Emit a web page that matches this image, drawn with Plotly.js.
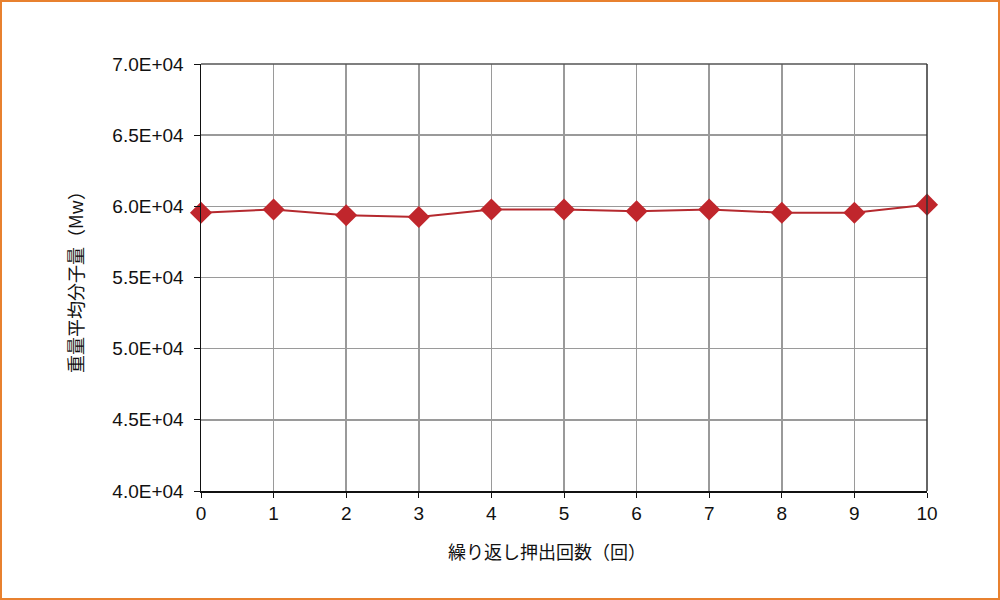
<!DOCTYPE html>
<html>
<head>
<meta charset="utf-8">
<script src="https://cdn.plot.ly/plotly-3.0.1.min.js"></script>
<style>
  body { margin: 0; background: #fff; }
  #wrap { position: relative; width: 1000px; height: 600px; }
  #chart { position: absolute; left: 0; top: 0; width: 1000px; height: 600px; }
  #frame {
    position: absolute; left: 0; top: 0; width: 1000px; height: 600px;
    box-sizing: border-box; border: 2px solid #e8812f; pointer-events: none;
  }
</style>
</head>
<body>
<div id="wrap">
  <div id="chart"></div>
  <div id="frame"></div>
</div>
<script>
// repeated extrusion count vs weight-average molecular weight
const cycles = [0, 1, 2, 3, 4, 5, 6, 7, 8, 9, 10];
const mw = [59550, 59780, 59370, 59250, 59780, 59780, 59650, 59780, 59550, 59550, 60120];
const yTicks = [40000, 45000, 50000, 55000, 60000, 65000, 70000];
const yTickText = ["4.0E+04", "4.5E+04", "5.0E+04", "5.5E+04", "6.0E+04", "6.5E+04", "7.0E+04"];
const xTitle = "繰り返し押出回数（回）";
const yTitle = "重量平均分子量（Mw）";

const LINE_RED = "#b5292e";
const TICK_FONT = { family: "Liberation Sans, Arial, sans-serif", size: 19, color: "#111" };
const JP_FONT = { family: "Noto Sans CJK JP, sans-serif", size: 18, color: "#111" };

const trace = {
  x: cycles,
  y: mw,
  type: "scatter",
  mode: "lines+markers",
  cliponaxis: false,
  line: { color: LINE_RED, width: 2 },
  marker: { symbol: "diamond", size: 17, color: "#c0262c", line: { color: "#c0262c", width: 0 } },
  showlegend: false,
};

const layout = {
  width: 1000,
  height: 600,
  paper_bgcolor: "rgba(0,0,0,0)",
  plot_bgcolor: "#fff",
  margin: { l: 201, r: 73, t: 64, b: 109 },
  xaxis: {
    range: [0, 10],
    tickvals: cycles,
    showgrid: true,
    gridcolor: "#9a9a9a",
    gridwidth: 1.5,
    showline: true,
    linecolor: "#111",
    linewidth: 1.5,
    ticks: "outside",
    ticklen: 5,
    tickcolor: "#111",
    tickfont: TICK_FONT,
    zeroline: false,
  },
  yaxis: {
    range: [40000, 70000],
    tickvals: yTicks,
    ticktext: yTickText,
    showgrid: true,
    gridcolor: "#9a9a9a",
    gridwidth: 1.5,
    showline: true,
    linecolor: "#111",
    linewidth: 1.5,
    ticks: "outside",
    ticklen: 6,
    tickcolor: "#111",
    tickfont: TICK_FONT,
    ticklabelstandoff: 6,
    zeroline: false,
    title: { text: yTitle, font: JP_FONT, standoff: 24 },
  },
  // x title sits a little left of the plot centre in the original
  annotations: [
    {
      text: xTitle,
      xref: "paper", yref: "paper",
      x: 0.477, y: -0.14,
      xanchor: "center", yanchor: "middle",
      showarrow: false,
      font: JP_FONT,
    },
  ],
  shapes: [
    { type: "line", xref: "paper", yref: "paper", x0: 0, x1: 1, y0: 1, y1: 1, line: { color: "#555", width: 1.5 } },
    { type: "line", xref: "paper", yref: "paper", x0: 1, x1: 1, y0: 0, y1: 1, line: { color: "#333", width: 1.5 } },
  ],
};

Plotly.newPlot("chart", [trace], layout, { displayModeBar: false, staticPlot: true });
</script>
</body>
</html>
